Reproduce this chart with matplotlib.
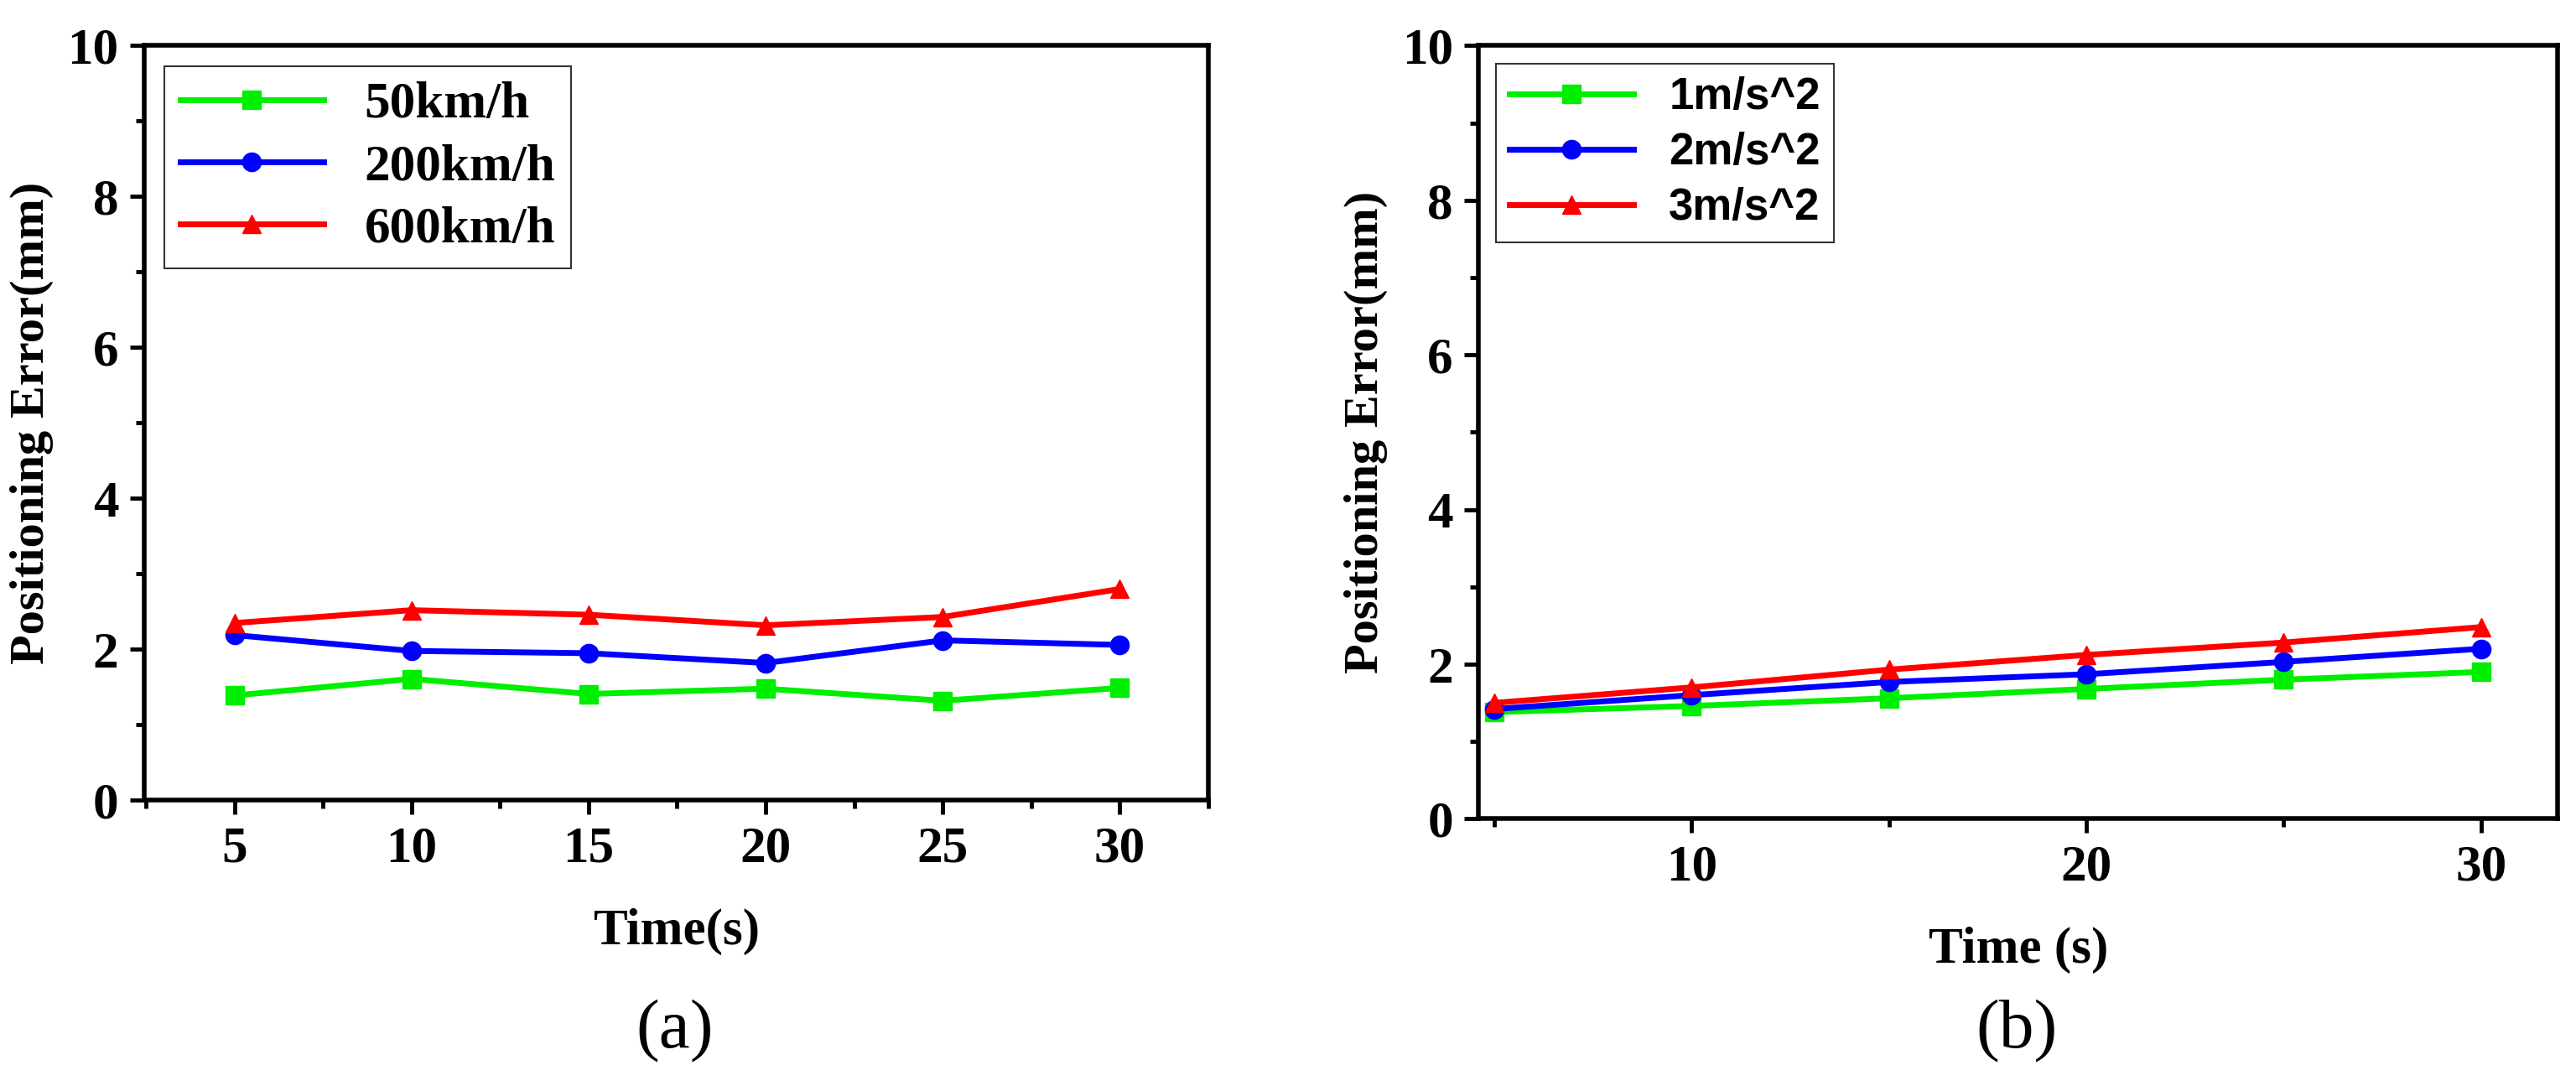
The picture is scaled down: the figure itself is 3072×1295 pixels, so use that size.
import matplotlib
matplotlib.use("Agg")
import matplotlib.pyplot as plt
from matplotlib.ticker import MultipleLocator

t = [5, 10, 15, 20, 25, 30]
a_labels = ["50km/h", "200km/h", "600km/h"]
a_50 = [1.39, 1.61, 1.41, 1.48, 1.32, 1.49]
a_200 = [2.19, 1.98, 1.95, 1.82, 2.12, 2.06]
a_600 = [2.35, 2.52, 2.46, 2.32, 2.43, 2.80]
b_labels = ["1m/s^2", "2m/s^2", "3m/s^2"]
b_1 = [1.38, 1.46, 1.56, 1.68, 1.80, 1.90]
b_2 = [1.42, 1.60, 1.77, 1.87, 2.03, 2.20]
b_3 = [1.50, 1.70, 1.93, 2.12, 2.28, 2.48]

serif = "Liberation Serif"
sans = "Liberation Sans"
fig = plt.figure(figsize=(30.72, 12.95), dpi=100)
axA = fig.add_axes([0.056, 0.263, 0.413, 0.695])
axB = fig.add_axes([0.574, 0.246, 0.419, 0.712])
colors = ["#00ee00", "#0000ff", "#ff0000"]
markers = ["s", "o", "^"]

def style(ax, xlim, major, minor, xlabel, legfont, legsize):
    ax.set_xlim(*xlim); ax.set_ylim(0, 10)
    ax.xaxis.set_major_locator(MultipleLocator(major))
    ax.xaxis.set_minor_locator(MultipleLocator(minor))
    ax.yaxis.set_major_locator(MultipleLocator(2))
    ax.yaxis.set_minor_locator(MultipleLocator(1))
    for s in ax.spines.values():
        s.set_linewidth(4)
    ax.tick_params(which="major", length=12, width=3.5, labelsize=44, pad=10)
    ax.tick_params(which="minor", length=7, width=3.5)
    for lab in ax.get_xticklabels() + ax.get_yticklabels():
        lab.set_fontfamily(serif); lab.set_fontweight("bold")
    ax.set_xlabel(xlabel, fontfamily=serif, fontweight="bold", fontsize=44, labelpad=30)
    ax.set_ylabel("Positioning Error(mm)", fontfamily=serif, fontweight="bold", fontsize=42, labelpad=12)
    leg = ax.legend(loc="upper left", prop={"family": legfont, "weight": "bold", "size": legsize},
                    frameon=True, fancybox=False, edgecolor="black", handlelength=2.8,
                    borderaxespad=0.4, labelspacing=0.3, borderpad=0.3)
    leg.get_frame().set_linewidth(1.5)

for ys, lab, c, m in zip([a_50, a_200, a_600], a_labels, colors, markers):
    axA.plot(t, ys, color=c, marker=m, markersize=16, linewidth=5, label=lab)
style(axA, (2.45, 32.5), 5, 2.5, "Time(s)", serif, 44)

for ys, lab, c, m in zip([b_1, b_2, b_3], b_labels, colors, markers):
    axB.plot(t, ys, color=c, marker=m, markersize=16, linewidth=5, label=lab)
style(axB, (4.6, 31.95), 10, 5, "Time (s)", sans, 38)

fig.text(0.262, 0.035, "(a)", fontfamily=serif, fontsize=60, ha="center")
fig.text(0.783, 0.035, "(b)", fontfamily=serif, fontsize=60, ha="center")
fig.savefig("out.png", dpi=100)
